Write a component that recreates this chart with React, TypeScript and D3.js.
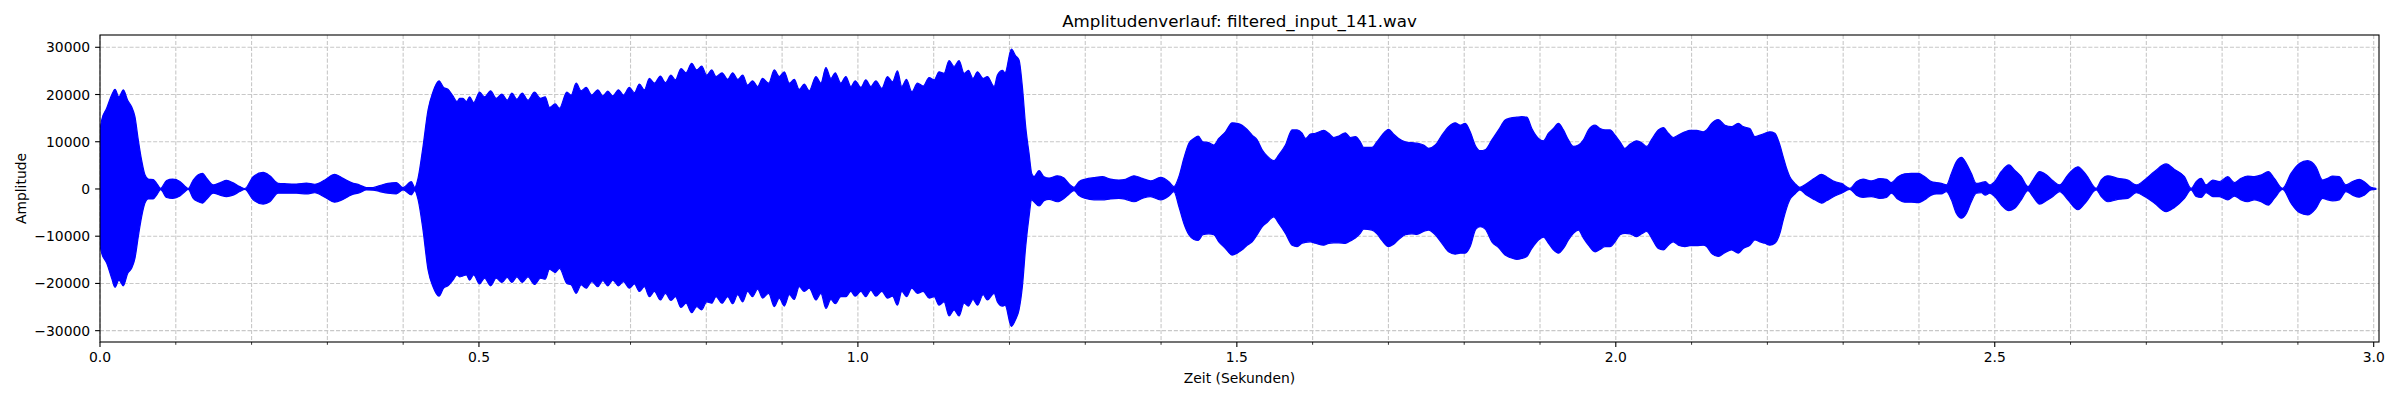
import { useMemo } from 'react';
import * as d3 from 'd3';

// Envelope of the waveform (seconds, upper / lower amplitude)
const timeSec = [
  0.0, 0.0022, 0.0088, 0.0154, 0.0198, 0.025, 0.0308, 0.0365, 0.0417, 0.0461, 0.0505, 0.0549, 0.0593, 0.0637, 0.0703, 0.0747,
  0.08, 0.0879, 0.0958, 0.1054, 0.112, 0.1164, 0.123, 0.1296, 0.1353, 0.1406, 0.1494, 0.1582, 0.167, 0.1757, 0.1845, 0.1911,
  0.2021, 0.2153, 0.2241, 0.235, 0.246, 0.2592, 0.2724, 0.2834, 0.2966, 0.3097, 0.3207, 0.3317, 0.3427, 0.3515, 0.3603, 0.3691,
  0.38, 0.391, 0.3998, 0.4108, 0.4152, 0.4196, 0.4262, 0.4328, 0.4394, 0.4473, 0.4534, 0.4591, 0.4657, 0.471,
  0.4745, 0.4789, 0.4833, 0.4877, 0.493, 0.5009, 0.5074, 0.5154, 0.5228, 0.5303, 0.5373, 0.5435, 0.5501, 0.5571, 0.5646, 0.5733,
  0.5812, 0.5874, 0.5931, 0.6006, 0.6063, 0.616, 0.6217, 0.6283, 0.6348, 0.6414, 0.6489, 0.6568, 0.6634, 0.67, 0.6766, 0.6841,
  0.6906, 0.6985, 0.7051, 0.7117, 0.7183, 0.7249, 0.7315, 0.7394, 0.746, 0.7534, 0.7592, 0.7666, 0.7732, 0.7807, 0.7873, 0.7939,
  0.8005, 0.8071, 0.8128,
  0.8207, 0.8282, 0.8348, 0.8414, 0.848, 0.8545, 0.8611, 0.8677, 0.8743, 0.8822, 0.8897, 0.8963, 0.9029, 0.9095, 0.916, 0.9226,
  0.9292, 0.9358, 0.9446, 0.9512, 0.9578, 0.9644, 0.9701, 0.9775, 0.9841, 0.9907, 0.9964, 1.0039, 1.0105, 1.0171, 1.0237, 1.0316,
  1.039, 1.0456, 1.0522, 1.0579, 1.0641, 1.0711, 1.0786, 1.0861, 1.094, 1.1006, 1.1071, 1.1137, 1.1203, 1.1269, 1.1335, 1.1401,
  1.1458, 1.1519, 1.1577,
  1.1652, 1.1709, 1.1797, 1.1841, 1.1907, 1.1942, 1.2025, 1.2082, 1.2126, 1.217, 1.2214, 1.2258, 1.2293, 1.2324, 1.239, 1.2456,
  1.2522, 1.2631, 1.2719, 1.2785, 1.2851, 1.2917, 1.3005, 1.3115, 1.3224, 1.3334, 1.3444, 1.3532, 1.3642, 1.3752, 1.3861, 1.3993,
  1.4103, 1.4169, 1.4235, 1.4301, 1.4367, 1.4433, 1.449, 1.4551, 1.463, 1.4696, 1.4762, 1.485, 1.4938, 1.5004,
  1.507, 1.5136, 1.5202, 1.5268, 1.5334, 1.5399, 1.5487, 1.5553, 1.5641, 1.5729, 1.5795, 1.5861, 1.5905, 1.597, 1.6036, 1.6146,
  1.6212, 1.6278, 1.6344, 1.6432, 1.6498, 1.6564, 1.6629, 1.6673, 1.6783, 1.6849, 1.6915, 1.7003, 1.7069, 1.7135, 1.7223, 1.731,
  1.7376, 1.7464, 1.753, 1.7618, 1.7706, 1.7794, 1.7881, 1.7947, 1.8013, 1.8079, 1.8154, 1.8211, 1.8277, 1.8365, 1.8453, 1.854,
  1.8606, 1.8694, 1.876, 1.8826, 1.8892, 1.898, 1.9046, 1.9112, 1.9177, 1.9243, 1.9309, 1.9375, 1.9441, 1.9507,
  1.9573, 1.9639, 1.9727, 1.9793, 1.9858, 1.9924, 1.999, 2.0056, 2.0122, 2.0188, 2.0276, 2.0342, 2.0408, 2.0473, 2.0561, 2.0627,
  2.0693, 2.0759, 2.0825, 2.0913, 2.0979, 2.1066, 2.1154, 2.1198, 2.1264, 2.1352, 2.144, 2.1528, 2.1616, 2.1681, 2.1769, 2.1835,
  2.1901, 2.1967, 2.2033, 2.2099, 2.2165, 2.2209, 2.2253, 2.2296, 2.2362, 2.2428, 2.2516, 2.2626, 2.2714, 2.278, 2.289, 2.2977,
  2.3087, 2.3175, 2.3263, 2.3373, 2.3483, 2.3571, 2.3636, 2.3724,
  2.3813, 2.3901, 2.3989, 2.4076, 2.4164, 2.423, 2.4296, 2.4362, 2.4428, 2.4494, 2.456, 2.4626, 2.4691, 2.4757, 2.4823, 2.4876,
  2.4933, 2.4999, 2.5087, 2.5188, 2.5263, 2.535, 2.5438, 2.5504, 2.5592, 2.568, 2.5768, 2.5856, 2.5965, 2.6097, 2.6207, 2.6339,
  2.6405, 2.6493, 2.6624, 2.6756, 2.6866, 2.6976, 2.7108, 2.7261, 2.7371, 2.7503, 2.7591, 2.7657, 2.7723, 2.7789, 2.7876, 2.7964,
  2.8074, 2.8162, 2.825, 2.8338, 2.8425, 2.8513, 2.861, 2.8689, 2.8799, 2.8909, 2.9019, 2.9128, 2.9238, 2.9326, 2.9392, 2.9458,
  2.9546, 2.9633, 2.9721, 2.9809, 2.9875, 2.9963, 3.0029,
];

const upperAmp = [
  12500, 14600, 17100, 19900, 21100, 19500, 21000, 18800, 17400, 15300, 10400, 6100, 3000, 2100, 2000, 1200,
  150, 1800, 2100, 1600, 600, 100, 1900, 3000, 3300, 2300, 850, 1300, 1800, 1300, 500, 100,
  2600, 3500, 2800, 1200, 1100, 1050, 1250, 1000, 1900, 3100, 2250, 1350, 850, 300, 300, 700,
  1200, 1350, 300, 1550, 350, 2250, 9000, 16700, 20600, 22900, 21500, 21100, 19700, 18500,
  19200, 19200, 18500, 19500, 18300, 20500, 19500, 20800, 19200, 20100, 18800, 20300, 19000, 20300, 18800, 20500,
  19200, 19500, 17300, 18000, 17100, 20500, 19900, 22400, 20800, 21500, 19900, 21000, 19700, 20700, 19700, 21000,
  19900, 21500, 20400, 22200, 21000, 23400, 22400, 23900, 22500, 24100, 23100, 25500, 24600, 26600, 25200, 26000,
  24100, 25200, 23800,
  24600, 23200, 24600, 23200, 24100, 22000, 22900, 21700, 23400, 22400, 25200, 23800, 24800, 22400, 23200, 21100,
  22200, 20800, 23800, 22400, 25700, 23400, 24600, 22400, 23800, 21700, 22900, 21500, 23100, 21700, 22900, 21300,
  23800, 22700, 25000, 21700, 23200, 20600, 22400, 21800, 23600, 23100, 24800, 24500, 27200, 25900, 27200, 24500,
  25100, 23400, 24800,
  23400, 23800, 21700, 24100, 25100, 24600, 29600, 28200, 27300, 21700, 13200, 7600, 3300, 2600, 3900, 2600,
  2300, 2800, 2300, 1100, 350, 1550, 2100, 2400, 2600, 2100, 1900, 2050, 2800, 2250, 1700, 2450,
  1550, 500, 2600, 6500, 9700, 10700, 11200, 10000, 9800, 9300, 10700, 12100, 14000, 13900,
  13500, 12600, 11400, 10400, 8300, 7000, 6000, 7200, 9300, 12500, 12500, 11800, 10700, 11600, 11800, 12400,
  11800, 10900, 11200, 11900, 10900, 11100, 10000, 8800, 8800, 10000, 11400, 12600, 11600, 10700, 10000, 9800,
  9700, 9300, 8600, 9300, 11400, 13200, 14000, 13500, 13900, 12100, 9000, 8100, 8300, 10400, 12500, 14600,
  15000, 15200, 15300, 15200, 12800, 10700, 10200, 11800, 12800, 13900, 12500, 10400, 9000, 9300,
  10400, 12500, 13500, 12800, 12500, 12500, 11400, 10000, 8600, 9500, 10200, 9800, 9000, 10500, 12500, 13000,
  11800, 10900, 11400, 12100, 12400, 12400, 12100, 12500, 13900, 14700, 13500, 13200, 13900, 13200, 12800, 11100,
  11400, 11800, 12100, 11800, 9300, 6800, 4400, 2600, 1200, 350, 1100, 2300, 3100, 2600, 1550, 1200,
  150, 1550, 2100, 1700, 2200, 2050, 1350, 2600,
  3200, 3300, 3300, 2600, 1550, 1350, 1200, 850, 3300, 5800, 6700, 5400, 3300, 1200, 1350, 1550,
  850, 1550, 3700, 5100, 4000, 2600, 500, 1900, 3700, 3000, 1750, 850, 3000, 4700, 3000, 150,
  1900, 2800, 2250, 1900, 850, 1900, 3700, 5300, 4150, 2600, 150, 1550, 2250, 850, 1900, 1550,
  2600, 1350, 2250, 2750, 2600, 2950, 3700, 2250, 150, 3300, 5400, 6000, 4700, 1900, 2250, 2750,
  2600, 850, 1550, 2050, 1550, 350, 150,
];

const lowerAmp = [
  -11900, -13600, -15700, -18900, -20800, -19300, -20500, -17900, -16800, -14700, -10100, -5900, -3000, -2100, -2100, -1300,
  -150, -1800, -2000, -1500, -600, -100, -2000, -2700, -3000, -2200, -900, -1300, -1600, -1300, -550, -100,
  -2300, -3200, -2700, -900, -900, -900, -1050, -800, -1750, -2800, -2200, -1250, -800, -200, -250, -550,
  -900, -1050, -200, -1250, -350, -2200, -8700, -17100, -20700, -22700, -21000, -20500, -19300, -18200,
  -18600, -18400, -18200, -19300, -18200, -20100, -18900, -20500, -18900, -19800, -18700, -19800, -18600, -19800, -18600, -20200,
  -18900, -19100, -17000, -17700, -16800, -20000, -20300, -22100, -20300, -21000, -19600, -20700, -19400, -20500, -19300, -20500,
  -19600, -21000, -20100, -21700, -20700, -22800, -21700, -23500, -22100, -23600, -22800, -25100, -24200, -26200, -24900, -25600,
  -23900, -24200, -22800,
  -24200, -22800, -24300, -22400, -23900, -21700, -22800, -21200, -23100, -22100, -24900, -23100, -24800, -22400, -23400, -20700,
  -21700, -21000, -23500, -22100, -25300, -23400, -24300, -22800, -22800, -21700, -22700, -21700, -22800, -21400, -22700, -21700,
  -23100, -22700, -24600, -21700, -22800, -21000, -22100, -21700, -23100, -22800, -24600, -23900, -26900, -25600, -26900, -24200,
  -24800, -23400, -24600,
  -22400, -23500, -22100, -23900, -24800, -24600, -29100, -27600, -25600, -20700, -12200, -5900, -2300, -2700, -3600, -2500,
  -2200, -2700, -2000, -1100, -350, -1400, -2000, -2300, -2300, -2100, -2000, -2200, -2700, -2000, -1600, -2300,
  -1500, -550, -3700, -7300, -9700, -10700, -10900, -9700, -9500, -9700, -11200, -12600, -14000, -13600,
  -12900, -11900, -11200, -9700, -8000, -7100, -5900, -7300, -9400, -11900, -12200, -11500, -11300, -11200, -11500, -11900,
  -11500, -11400, -11400, -11500, -11000, -10400, -9400, -8500, -8700, -9500, -10900, -12200, -11700, -10700, -9700, -9500,
  -9600, -9000, -8700, -9700, -11500, -13300, -13800, -13600, -13600, -12200, -8500, -8000, -8500, -11200, -12400, -14000,
  -14500, -14900, -14700, -14300, -12600, -10800, -10200, -11500, -12900, -13600, -12600, -10800, -9400, -8700,
  -10400, -11900, -13300, -12800, -12200, -12200, -11200, -9700, -9400, -9500, -10100, -9500, -9000, -10400, -12600, -12900,
  -11900, -11200, -11900, -12200, -12000, -12000, -11900, -12200, -13600, -14300, -13500, -12900, -13600, -12600, -11900, -10800,
  -11200, -11500, -11900, -11500, -9400, -6600, -4100, -2300, -1100, -200, -1300, -2300, -3000, -2500, -1500, -900,
  -100, -1300, -1800, -1600, -2000, -1800, -900, -2200,
  -2800, -2800, -2900, -2300, -1300, -1050, -1050, -550, -2300, -5200, -6200, -5200, -2700, -900, -800, -1300,
  -900, -1600, -3400, -4600, -4100, -2300, -350, -1600, -3200, -2500, -1600, -550, -2300, -4400, -2700, -200,
  -1600, -2700, -2200, -2000, -800, -1600, -3000, -4800, -3900, -2000, -200, -1600, -1800, -800, -1600, -1600,
  -2300, -1500, -2300, -2700, -2300, -2700, -3400, -2000, -100, -3000, -5000, -5500, -4100, -2000, -2300, -2500,
  -2300, -550, -1300, -1750, -1300, -200, -100,
];

const xDomain = [0, 3.007];
const yDomain = [-32400, 32600];
const xMajorTicks = [0, 0.5, 1.0, 1.5, 2.0, 2.5, 3.0];
const xMinorTicks = [
  0.1, 0.2, 0.3, 0.4, 0.6, 0.7, 0.8, 0.9, 1.1, 1.2, 1.3, 1.4, 1.6, 1.7, 1.8, 1.9, 2.1, 2.2, 2.3, 2.4, 2.6, 2.7, 2.8, 2.9,
];
const yTicks = [-30000, -20000, -10000, 0, 10000, 20000, 30000];

const chartTitle = 'Amplitudenverlauf: filtered_input_141.wav';
const xLabel = 'Zeit (Sekunden)';
const yLabel = 'Amplitude';

const WIDTH = 2400;
const HEIGHT = 400;
const margin = { left: 100, right: 21, top: 35, bottom: 58 };
const FONT = '"DejaVu Sans", "Liberation Sans", sans-serif';
const GRID = '#c8c8c8';

export default function App() {
  const x = d3.scaleLinear().domain(xDomain).range([margin.left, WIDTH - margin.right]);
  const y = d3.scaleLinear().domain(yDomain).range([HEIGHT - margin.bottom, margin.top]);

  const envelope = useMemo(() => {
    const pts = timeSec.map((t, i) => ({ t, hi: upperAmp[i], lo: lowerAmp[i] }));
    return d3.area<{ t: number; hi: number; lo: number }>()
      .x(d => x(d.t))
      .y0(d => y(d.lo))
      .y1(d => y(d.hi))
      .curve(d3.curveMonotoneX)(pts) || '';
  }, []);

  const x0 = margin.left;
  const x1 = WIDTH - margin.right;
  const y0 = margin.top;
  const y1 = HEIGHT - margin.bottom;
  const fmtY = (v: number) => String(v).replace('-', '\u2212');

  return (
    <svg
      width={WIDTH}
      height={HEIGHT}
      style={{ position: 'absolute', left: 0, top: 0, background: '#fff' }}
      fontFamily={FONT}
    >
      <defs>
        <clipPath id="plot-area">
          <rect x={x0} y={y0} width={x1 - x0} height={y1 - y0} />
        </clipPath>
      </defs>

      {/* grid */}
      <g stroke={GRID} strokeWidth={1.1} strokeDasharray="4.1,1.8">
        {[...xMajorTicks, ...xMinorTicks].map(t => (
          <line key={'gx' + t} x1={x(t)} x2={x(t)} y1={y0} y2={y1} />
        ))}
        {yTicks.map(v => (
          <line key={'gy' + v} x1={x0} x2={x1} y1={y(v)} y2={y(v)} />
        ))}
      </g>

      {/* waveform envelope */}
      <g clipPath="url(#plot-area)">
        <path d={envelope} fill="#0000ff" stroke="#0000ff" strokeWidth={1.2} strokeLinejoin="round" />
      </g>

      {/* frame */}
      <rect x={x0} y={y0} width={x1 - x0} height={y1 - y0} fill="none" stroke="#000" strokeWidth={1.1} />

      {/* x ticks */}
      <g stroke="#000">
        {xMajorTicks.map(t => (
          <line key={'xt' + t} x1={x(t)} x2={x(t)} y1={y1} y2={y1 + 4.9} strokeWidth={1.1} />
        ))}
        {xMinorTicks.map(t => (
          <line key={'xm' + t} x1={x(t)} x2={x(t)} y1={y1} y2={y1 + 2.8} strokeWidth={0.8} />
        ))}
        {yTicks.map(v => (
          <line key={'yt' + v} x1={x0 - 4.9} x2={x0} y1={y(v)} y2={y(v)} strokeWidth={1.1} />
        ))}
      </g>

      <g fontSize={13.9} fill="#000">
        {xMajorTicks.map(t => (
          <text key={'xl' + t} x={x(t)} y={362} textAnchor="middle">
            {t.toFixed(1)}
          </text>
        ))}
        {yTicks.map(v => (
          <text key={'yl' + v} x={x0 - 9.8} y={y(v)} dy="0.36em" textAnchor="end">
            {fmtY(v)}
          </text>
        ))}
        <text x={(x0 + x1) / 2} y={383} textAnchor="middle">
          {xLabel}
        </text>
        <text transform={`translate(25.5, ${(y0 + y1) / 2}) rotate(-90)`} textAnchor="middle">
          {yLabel}
        </text>
      </g>

      <text x={(x0 + x1) / 2} y={27} textAnchor="middle" fontSize={16.7} fill="#000">
        {chartTitle}
      </text>
    </svg>
  );
}
